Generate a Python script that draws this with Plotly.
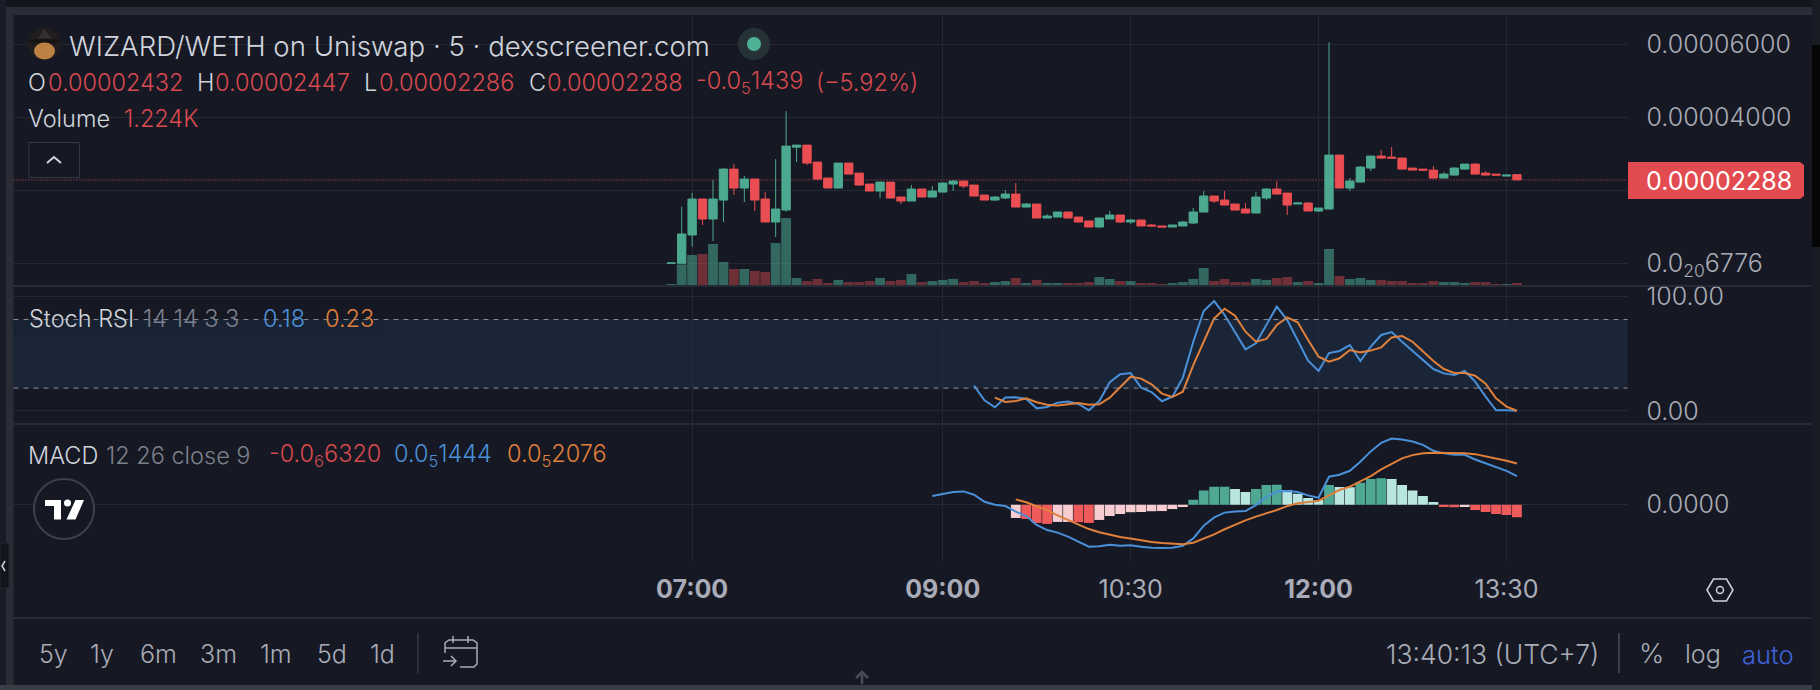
#!/usr/bin/env python
# coding: utf-8

import pandas as pd
import plotly.graph_objects as go
from plotly.subplots import make_subplots

# 5 minute bars, prices in units of 1e-5
times = list(pd.date_range("2024-01-01 06:50", periods=82, freq="5min").strftime("%H:%M"))

opens = [0.007, 0.0, 0.776, 1.763, 1.215, 1.735, 2.584, 2.064, 2.311, 1.763, 1.132, 1.461, 3.187, 3.242, 2.776, 2.338,
         2.064, 2.749, 2.475, 2.174, 1.982, 2.228, 1.817, 1.708, 2.037, 1.817, 1.954, 2.174, 2.256, 2.146, 1.872, 1.735,
         1.790, 1.900, 1.543, 1.626, 1.242, 1.269, 1.406, 1.269, 1.160, 0.995, 1.215, 1.324, 1.132, 1.187, 1.050, 1.023,
         0.995, 1.023, 1.105, 1.406, 1.845, 1.735, 1.626, 1.489, 1.379, 1.790, 2.037, 1.927, 1.626, 1.653, 1.434, 1.489,
         2.968, 2.064, 2.228, 2.612, 2.941, 2.913, 2.886, 2.612, 2.584, 2.557, 2.338, 2.420, 2.584, 2.721, 2.475, 2.447,
         2.393, 2.432]
highs = [0.007, 1.553, 1.936, 1.763, 2.283, 2.612, 2.721, 2.393, 2.311, 1.954, 2.858, 4.174, 3.242, 3.242, 2.776, 2.338,
         2.749, 2.749, 2.475, 2.174, 2.246, 2.228, 1.817, 2.146, 2.037, 2.119, 2.228, 2.283, 2.256, 2.146, 1.872, 1.845,
         2.009, 2.201, 1.653, 1.626, 1.352, 1.406, 1.406, 1.269, 1.160, 1.242, 1.434, 1.324, 1.215, 1.187, 1.078, 1.023,
         1.050, 1.160, 1.516, 1.982, 1.845, 1.982, 1.626, 1.653, 1.954, 2.064, 2.256, 1.927, 1.680, 1.680, 1.516, 6.064,
         2.968, 2.338, 2.667, 2.941, 3.105, 3.187, 2.886, 2.612, 2.584, 2.667, 2.502, 2.639, 2.721, 2.749, 2.530, 2.447,
         2.420, 2.447]
lows = [0.007, 0.0, 0.457, 1.050, 0.612, 1.132, 1.872, 1.680, 1.434, 1.132, 0.721, 1.416, 2.776, 2.694, 2.283, 2.064,
        2.064, 2.447, 2.146, 1.982, 1.790, 1.790, 1.626, 1.708, 1.817, 1.817, 1.954, 1.982, 2.064, 1.845, 1.735, 1.708,
        1.763, 1.543, 1.543, 1.242, 1.242, 1.269, 1.242, 1.132, 0.995, 0.968, 1.215, 1.105, 1.078, 1.023, 1.023, 0.995,
        0.995, 1.023, 1.078, 1.406, 1.653, 1.598, 1.461, 1.379, 1.379, 1.735, 1.900, 1.324, 1.626, 1.434, 1.406, 1.489,
        2.064, 1.982, 2.228, 2.530, 2.858, 2.886, 2.584, 2.557, 2.530, 2.338, 2.338, 2.420, 2.584, 2.447, 2.420, 2.420,
        2.393, 2.286]
closes = [0.007, 0.804, 1.763, 1.215, 1.763, 2.584, 2.064, 2.311, 1.735, 1.132, 1.489, 3.215, 3.242, 2.749, 2.311, 2.064,
          2.749, 2.447, 2.146, 1.982, 2.228, 1.790, 1.708, 2.037, 1.817, 1.982, 2.201, 2.256, 2.119, 1.845, 1.735, 1.817,
          1.900, 1.543, 1.626, 1.242, 1.297, 1.406, 1.242, 1.132, 0.995, 1.242, 1.324, 1.132, 1.187, 1.023, 1.023, 0.995,
          1.050, 1.132, 1.406, 1.845, 1.708, 1.598, 1.461, 1.379, 1.817, 2.037, 1.900, 1.598, 1.653, 1.434, 1.516, 2.968,
          2.064, 2.256, 2.639, 2.941, 2.886, 2.886, 2.584, 2.557, 2.557, 2.338, 2.447, 2.612, 2.721, 2.447, 2.420, 2.420,
          2.420, 2.288]
volumes = [0.6, 12.6, 18.4, 19.0, 25.1, 14.1, 9.8, 9.8, 8.6, 8.0, 25.7, 41.0, 4.3, 2.4, 3.7, 1.2, 3.1, 1.8, 1.8, 2.4,
           4.3, 2.4, 3.1, 6.7, 1.8, 2.4, 3.1, 3.7, 1.8, 2.4, 1.2, 1.8, 2.4, 4.3, 1.2, 3.1, 1.2, 1.2, 1.2, 1.2,
           1.8, 4.9, 3.7, 2.4, 2.4, 1.2, 1.2, 0.6, 1.2, 1.8, 3.7, 10.4, 2.4, 3.7, 1.8, 1.8, 3.7, 3.1, 4.3, 4.9,
           1.8, 2.4, 1.2, 22.0, 5.5, 3.7, 4.3, 3.1, 3.1, 2.4, 2.4, 1.2, 1.2, 2.4, 1.8, 1.8, 1.2, 1.8, 1.8, 0.6,
           0.6, 1.224]

# Stoch RSI starts at bar 29 (K) and bar 31 (D)
stoch_k = [22.2, 9.3, 3.2, 11.7, 12.0, 10.5, 2.3, 3.5, 7.3, 8.2, 6.1, 0.6, 8.7, 25.1, 32.1, 33.2, 20.4, 16.6, 8.5, 12.5,
           29.2, 60.6, 87.5, 96.2, 84.0, 69.4, 53.9, 59.2, 75.2, 91.3, 79.6, 62.1, 44.0, 35.0, 50.7, 52.5, 57.7, 43.7,
           56.3, 66.5, 69.1, 60.6, 52.5, 44.6, 36.7, 32.9, 31.5, 35.0, 25.7, 12.5, 0.6, 0.6, 0.18]
stoch_d = [11.7, 7.9, 8.7, 11.1, 7.6, 5.5, 4.7, 5.8, 7.0, 5.5, 5.8, 11.7, 21.3, 30.0, 28.3, 23.3, 15.2, 12.2, 16.9, 40.2,
           60.6, 81.0, 89.5, 83.4, 69.4, 60.6, 63.0, 75.2, 81.9, 77.6, 62.1, 47.5, 43.1, 46.1, 53.4, 51.3, 52.8, 55.7,
           64.4, 65.6, 60.6, 52.5, 43.7, 36.7, 33.2, 33.2, 30.9, 23.9, 11.1, 3.8, 0.23]

# MACD in units of 1e-7, line starts at bar 25, signal and histogram at bar 33
macd_line = [4.4, 5.4, 6.4, 6.7, 5.0, 1.5, 0.0, -0.7, -3.5, -5.7, -10.2, -12.8, -14.1, -16.1, -18.6, -21.2, -21.0, -20.2,
             -20.7, -20.5, -21.2, -21.7, -21.8, -21.7, -20.7, -17.0, -10.6, -6.4, -4.0, -3.4, -3.2, -0.2, 4.0, 6.6, 6.9,
             6.4, 4.7, 3.5, 14.1, 15.1, 17.1, 21.7, 26.9, 31.2, 33.4, 32.9, 31.9, 30.2, 27.2, 25.9, 25.2, 25.2, 22.8,
             20.8, 19.2, 17.1, 14.44]
macd_signal = [2.7, 1.2, -0.8, -2.7, -5.4, -7.7, -9.9, -12.3, -13.9, -15.1, -16.3, -17.1, -18.0, -18.8, -19.3, -19.8,
               -20.0, -19.2, -17.1, -15.0, -12.4, -10.1, -7.9, -6.0, -4.4, -2.7, -0.7, 0.7, 1.3, 2.0, 4.7, 7.4, 9.1,
               11.6, 14.4, 17.8, 20.8, 23.4, 25.0, 26.0, 26.2, 26.2, 26.2, 26.0, 25.5, 24.5, 23.5, 22.2, 20.76]
macd_hist = [-6.7, -7.2, -9.2, -9.7, -8.7, -8.7, -8.8, -9.2, -7.7, -5.7, -4.7, -3.8, -3.7, -3.3, -3.2, -2.2, -1.2,
             2.5, 7.1, 9.0, 9.1, 7.9, 6.4, 7.9, 9.9, 10.0, 7.4, 5.5, 3.4, 2.4, 9.9, 8.9, 8.8, 11.1, 12.9, 13.4,
             12.9, 9.9, 7.1, 4.4, 1.3, -1.2, -1.3, -1.1, -2.7, -3.7, -4.7, -5.2, -6.32]

price_ticks = [0.0, 2.0, 4.0, 6.0]
price_tick_labels = ["0.0<sub>20</sub>6776", "0.00002000", "0.00004000", "0.00006000"]
stoch_ticks = [0, 100]
stoch_tick_labels = ["0.00", "100.00"]
macd_ticks = [0]
macd_tick_labels = ["0.0000"]
time_ticks = ["07:00", "09:00", "10:30", "12:00", "13:30"]
time_tick_labels = ["<b>07:00</b>", "<b>09:00</b>", "10:30", "<b>12:00</b>", "13:30"]
range_buttons = ["5y", "1y", "6m", "3m", "1m", "5d", "1d"]

BG = "#161924"
GRID = "#252934"
TEXT = "#d1d4dc"
MUTED = "#7c808b"
TICK = "#a9acb6"
GREEN = "#4ca98f"
RED = "#ea4e52"
LABEL_RED = "#d9494f"
BLUE = "#4a90d9"
ORANGE = "#e0803a"
FONT = "Inter"
LEGEND_SIZE = 23.5

W, H = 1820, 690
LEFT, RIGHT = 13.5, 1627.5


def X(px):
  return px / W


def Y(py):
  return 1 - py / H


annotations = []
shapes = []


def label(x, y, text, color=TEXT, size=LEGEND_SIZE, weight=300):
  annotations.append(dict(x=X(x - 1.5), y=Y(y + 1), xref="paper", yref="paper", text=text, showarrow=False,
                          xanchor="left", yanchor="middle", align="left", borderpad=0,
                          font=dict(family=FONT, size=size, color=color, weight=weight)))


def rect(x0, y0, x1, y1, fill, line=None):
  shapes.append(dict(type="rect", xref="paper", yref="paper", x0=X(x0), x1=X(x1), y0=Y(y0), y1=Y(y1),
                     fillcolor=fill, line=dict(color=line or fill, width=1 if line else 0), layer="below"))


def circle(cx, cy, rx, ry, fill="rgba(0,0,0,0)", line=None, width=2):
  shapes.append(dict(type="circle", xref="paper", yref="paper", x0=X(cx - rx), x1=X(cx + rx), y0=Y(cy - ry), y1=Y(cy + ry),
                     fillcolor=fill, line=dict(color=line or "rgba(0,0,0,0)", width=width if line else 0)))


def poly(points, color=None, width=2, fill=None, closed=False):
  d = "M" + " L".join(f"{X(x):.5f},{Y(y):.5f}" for x, y in points) + (" Z" if closed else "")
  shapes.append(dict(type="path", xref="paper", yref="paper", path=d, fillcolor=fill or "rgba(0,0,0,0)",
                     line=dict(color=color or "rgba(0,0,0,0)", width=width if color else 0)))


def pad(values):
  return [None] * (len(times) - len(values)) + values


def hist_colors(values):
  colors = []
  prev = values[0]
  for v in values:
    if v >= 0:
      colors.append("#4ea894" if v >= prev else "#b9e6de")
    else:
      colors.append("#f7cdd1" if v >= prev else "#ef5a5a")
    prev = v
  return ["rgba(0,0,0,0)"] * (len(times) - len(values)) + colors


fig = make_subplots(rows=3, cols=1, shared_xaxes=True, specs=[[{"secondary_y": True}], [{}], [{}]])

vol_colors = ["rgba(77,170,145,0.55)" if c >= o else "rgba(234,78,82,0.42)" for o, c in zip(opens, closes)]
fig.add_trace(go.Bar(x=times, y=volumes, marker=dict(color=vol_colors, line_width=0), showlegend=False), row=1, col=1, secondary_y=False)
fig.add_trace(go.Candlestick(x=times,
                             open=[v * 1e-5 for v in opens], high=[v * 1e-5 for v in highs],
                             low=[v * 1e-5 for v in lows], close=[v * 1e-5 for v in closes],
                             increasing=dict(line=dict(color=GREEN, width=1), fillcolor=GREEN),
                             decreasing=dict(line=dict(color=RED, width=1), fillcolor=RED),
                             showlegend=False), row=1, col=1, secondary_y=True)

fig.add_trace(go.Scatter(x=times, y=pad(stoch_k), mode="lines", line=dict(color=BLUE, width=2), showlegend=False), row=2, col=1)
fig.add_trace(go.Scatter(x=times, y=pad(stoch_d), mode="lines", line=dict(color=ORANGE, width=2), showlegend=False), row=2, col=1)

fig.add_trace(go.Bar(x=times, y=pad([v * 1e-7 for v in macd_hist]), marker=dict(color=hist_colors(macd_hist), line_width=0), showlegend=False), row=3, col=1)
fig.add_trace(go.Scatter(x=times, y=pad([v * 1e-7 for v in macd_line]), mode="lines", line=dict(color=BLUE, width=2), showlegend=False), row=3, col=1)
fig.add_trace(go.Scatter(x=times, y=pad([v * 1e-7 for v in macd_signal]), mode="lines", line=dict(color=ORANGE, width=2), showlegend=False), row=3, col=1)

# window chrome
rect(0, 0, W, 7, "#14161e")
rect(13.5, 7, 1812, 15, "#2a2d38")
rect(0, 0, 6, H, "#191c26")
rect(6, 7, 13.5, 685, "#2a2d36")
rect(0, 685, 1812, H, "#3a3d45")
rect(1812, 0, W, H, "#1a1c25")
rect(1812, 45, W, 247, "#060607")

# price line and pane separators
shapes.append(dict(type="line", xref="paper", yref="y2", x0=X(LEFT), x1=X(RIGHT), y0=closes[-1] * 1e-5, y1=closes[-1] * 1e-5,
                   line=dict(color="rgba(235,80,105,0.85)", width=1, dash="1px,2px"), layer="below"))
for sep in [286, 424, 618]:
  shapes.append(dict(type="line", xref="paper", yref="paper", x0=X(LEFT), x1=X(1812), y0=Y(sep), y1=Y(sep),
                     line=dict(color="#2c303b", width=1.5)))

# stoch band
shapes.append(dict(type="rect", xref="paper", yref="y3", x0=X(LEFT), x1=X(RIGHT), y0=20, y1=80,
                   fillcolor="#1a2638", line_width=0, layer="below"))
shapes.append(dict(type="rect", xref="paper", yref="paper", x0=X(LEFT), x1=X(385), y0=Y(319), y1=Y(335),
                   fillcolor="rgba(22,25,36,0.3)", line_width=0))
for level in [20, 80]:
  shapes.append(dict(type="line", xref="paper", yref="y3", x0=X(LEFT), x1=X(RIGHT), y0=level, y1=level,
                     line=dict(color="#8b8f9a", width=1, dash="5px,5px")))

# last price badge
badge = [(1628, 162), (1800, 162), (1804, 165), (1804, 196), (1800, 199), (1628, 199)]
poly(badge, fill="#e24c50", closed=True)
label(1646, 180.5, "0.00002288", "#ffffff", 25, 400)

# header
circle(44.5, 44, 16.5, 16, fill="#211d1e")
poly([(44.5, 28.5), (36, 41), (53, 41)], fill="#35302f", closed=True)
circle(44.5, 41, 15, 2.5, fill="#171415")
circle(44.5, 51, 10.5, 8.5, fill="#bd8143")
label(69, 45, "WIZARD/WETH on Uniswap · 5 · dexscreener.com", TEXT, 27.6)
circle(754, 44, 16, 16, fill="#263238")
circle(754, 44, 7, 7, fill="#4fb095")

for x, letter in [(28, "O"), (197, "H"), (364.5, "L"), (529, "C")]:
  label(x, 81.5, letter)
for x, value in [(48, "0.00002432"), (215.5, "0.00002447"), (379.5, "0.00002286"), (547, "0.00002288")]:
  label(x, 81.5, value, LABEL_RED)
label(696.5, 81.5, "-0.0<sub>5</sub>1439", LABEL_RED)
label(816.5, 81.5, "(−5.92%)", LABEL_RED)

label(28.5, 118, "Volume")
label(124.5, 118, "1.224K", LABEL_RED)
shapes.append(dict(type="rect", xref="paper", yref="paper", x0=X(29), x1=X(79.5), y0=Y(142.5), y1=Y(177.5),
                   fillcolor=BG, line=dict(color="#353944", width=1)))
poly([(47, 163), (54, 157), (61, 163)], TEXT, 2)

# indicator legends
label(29, 317, "Stoch RSI")
label(143, 317, "14 14 3 3", MUTED)
label(263, 317, "0.18", BLUE)
label(325, 317, "0.23", ORANGE)

label(28.5, 454, "MACD")
label(106, 454, "12 26 close 9", MUTED)
label(269, 454, "-0.0<sub>6</sub>6320", LABEL_RED)
label(394, 454, "0.0<sub>5</sub>1444", BLUE)
label(507, 454, "0.0<sub>5</sub>2076", ORANGE)

# tradingview badge
circle(64, 509, 30, 30, fill=BG, line="#3c404b", width=2)
poly([(45, 500), (61, 500), (61, 519.5), (54, 519.5), (54, 506), (45, 506)], fill="#ffffff", closed=True)
circle(67.5, 503, 3.5, 3.5, fill="#ffffff")
poly([(75.5, 500), (84, 500), (75.5, 519.5), (66.5, 519.5)], fill="#ffffff", closed=True)

# bottom toolbar
for x, text in zip([39.5, 90.5, 140.5, 200, 260, 317.5, 370.5], range_buttons):
  label(x, 653, text, TICK, 25)
poly([(418, 633), (418, 673)], "#353944", 1.5)
poly([(445, 653), (445, 643), (449, 640), (473, 640), (477, 643), (477, 664), (474, 667), (460, 667)], TICK, 1.5)
poly([(445, 648), (477, 648)], TICK, 1.5)
poly([(453, 636), (453, 643)], TICK, 1.5)
poly([(468, 636), (468, 643)], TICK, 1.5)
poly([(443, 661), (456, 661)], TICK, 1.5)
poly([(451, 656), (456, 661), (451, 666)], TICK, 1.5)

label(1386, 653, "13:40:13 (UTC+7)", TICK, 26.5)
poly([(1619, 633), (1619, 673)], "#4a4d58", 1.5)
label(1639, 652, "%", TICK, 27)
label(1685.5, 653, "log", TICK, 25)
label(1742.5, 653, "auto", "#3f62d8", 25.5)
poly([(1707, 590), (1713.5, 579), (1726.5, 579), (1733, 590), (1726.5, 601), (1713.5, 601)], TEXT, 1.5, closed=True)
circle(1720, 590, 3.5, 3.5, line=TEXT, width=1.5)
poly([(862, 684), (862, 672)], "#4a4d58", 2.5)
poly([(856, 678), (862, 672), (868, 678)], "#4a4d58", 2.5)

# sidebar toggle
rect(0, 543, 9, 588, "#12141b", "#23262f")
poly([(5, 561), (2, 566), (5, 571)], TEXT, 1.5)

fig.update_xaxes(range=[-63.0, 91.59], domain=[X(LEFT), X(RIGHT)], tickmode="array", tickvals=time_ticks, ticktext=time_tick_labels,
                 showgrid=True, gridcolor=GRID, gridwidth=1, zeroline=False, showline=False, rangeslider_visible=False,
                 showticklabels=False, ticks="", fixedrange=True, automargin=False)
fig.update_xaxes(showticklabels=True, ticks="outside", ticklen=6, tickcolor="rgba(0,0,0,0)",
                 tickfont=dict(family=FONT, size=25, color=TICK), row=3, col=1)


def price_axis(ticks, labels, lo, hi, y0, y1):
  return dict(domain=[Y(y1), Y(y0)], range=[lo, hi], side="right", tickmode="array", tickvals=ticks, ticktext=labels,
              showgrid=True, gridcolor=GRID, zeroline=False, showline=False, ticks="outside", ticklen=13,
              tickcolor="rgba(0,0,0,0)", tickfont=dict(family=FONT, size=25, color=TICK, weight=300), fixedrange=True,
              automargin=False)


fig.update_layout(
  width=W, height=H, margin=dict(l=0, r=0, t=0, b=0),
  paper_bgcolor=BG, plot_bgcolor="rgba(0,0,0,0)", showlegend=False, bargap=0.06, boxgap=0.2, boxgroupgap=0,
  yaxis=dict(domain=[Y(286), Y(15)], range=[-0.612, 165.2], visible=False, fixedrange=True, automargin=False),
  yaxis2=price_axis([v * 1e-5 for v in price_ticks], price_tick_labels, -0.623e-5, 6.812e-5, 15, 286),
  yaxis3=price_axis(stoch_ticks, stoch_tick_labels, -11.4, 108.5, 287, 424),
  yaxis4=price_axis(macd_ticks, macd_tick_labels, -2.84e-6, 4.02e-6, 425, 561),
  shapes=shapes, annotations=annotations,
)

fig.write_html("out.html", config={"displayModeBar": False},
               post_script="document.body.style.margin='0';document.body.style.overflow='hidden';")
